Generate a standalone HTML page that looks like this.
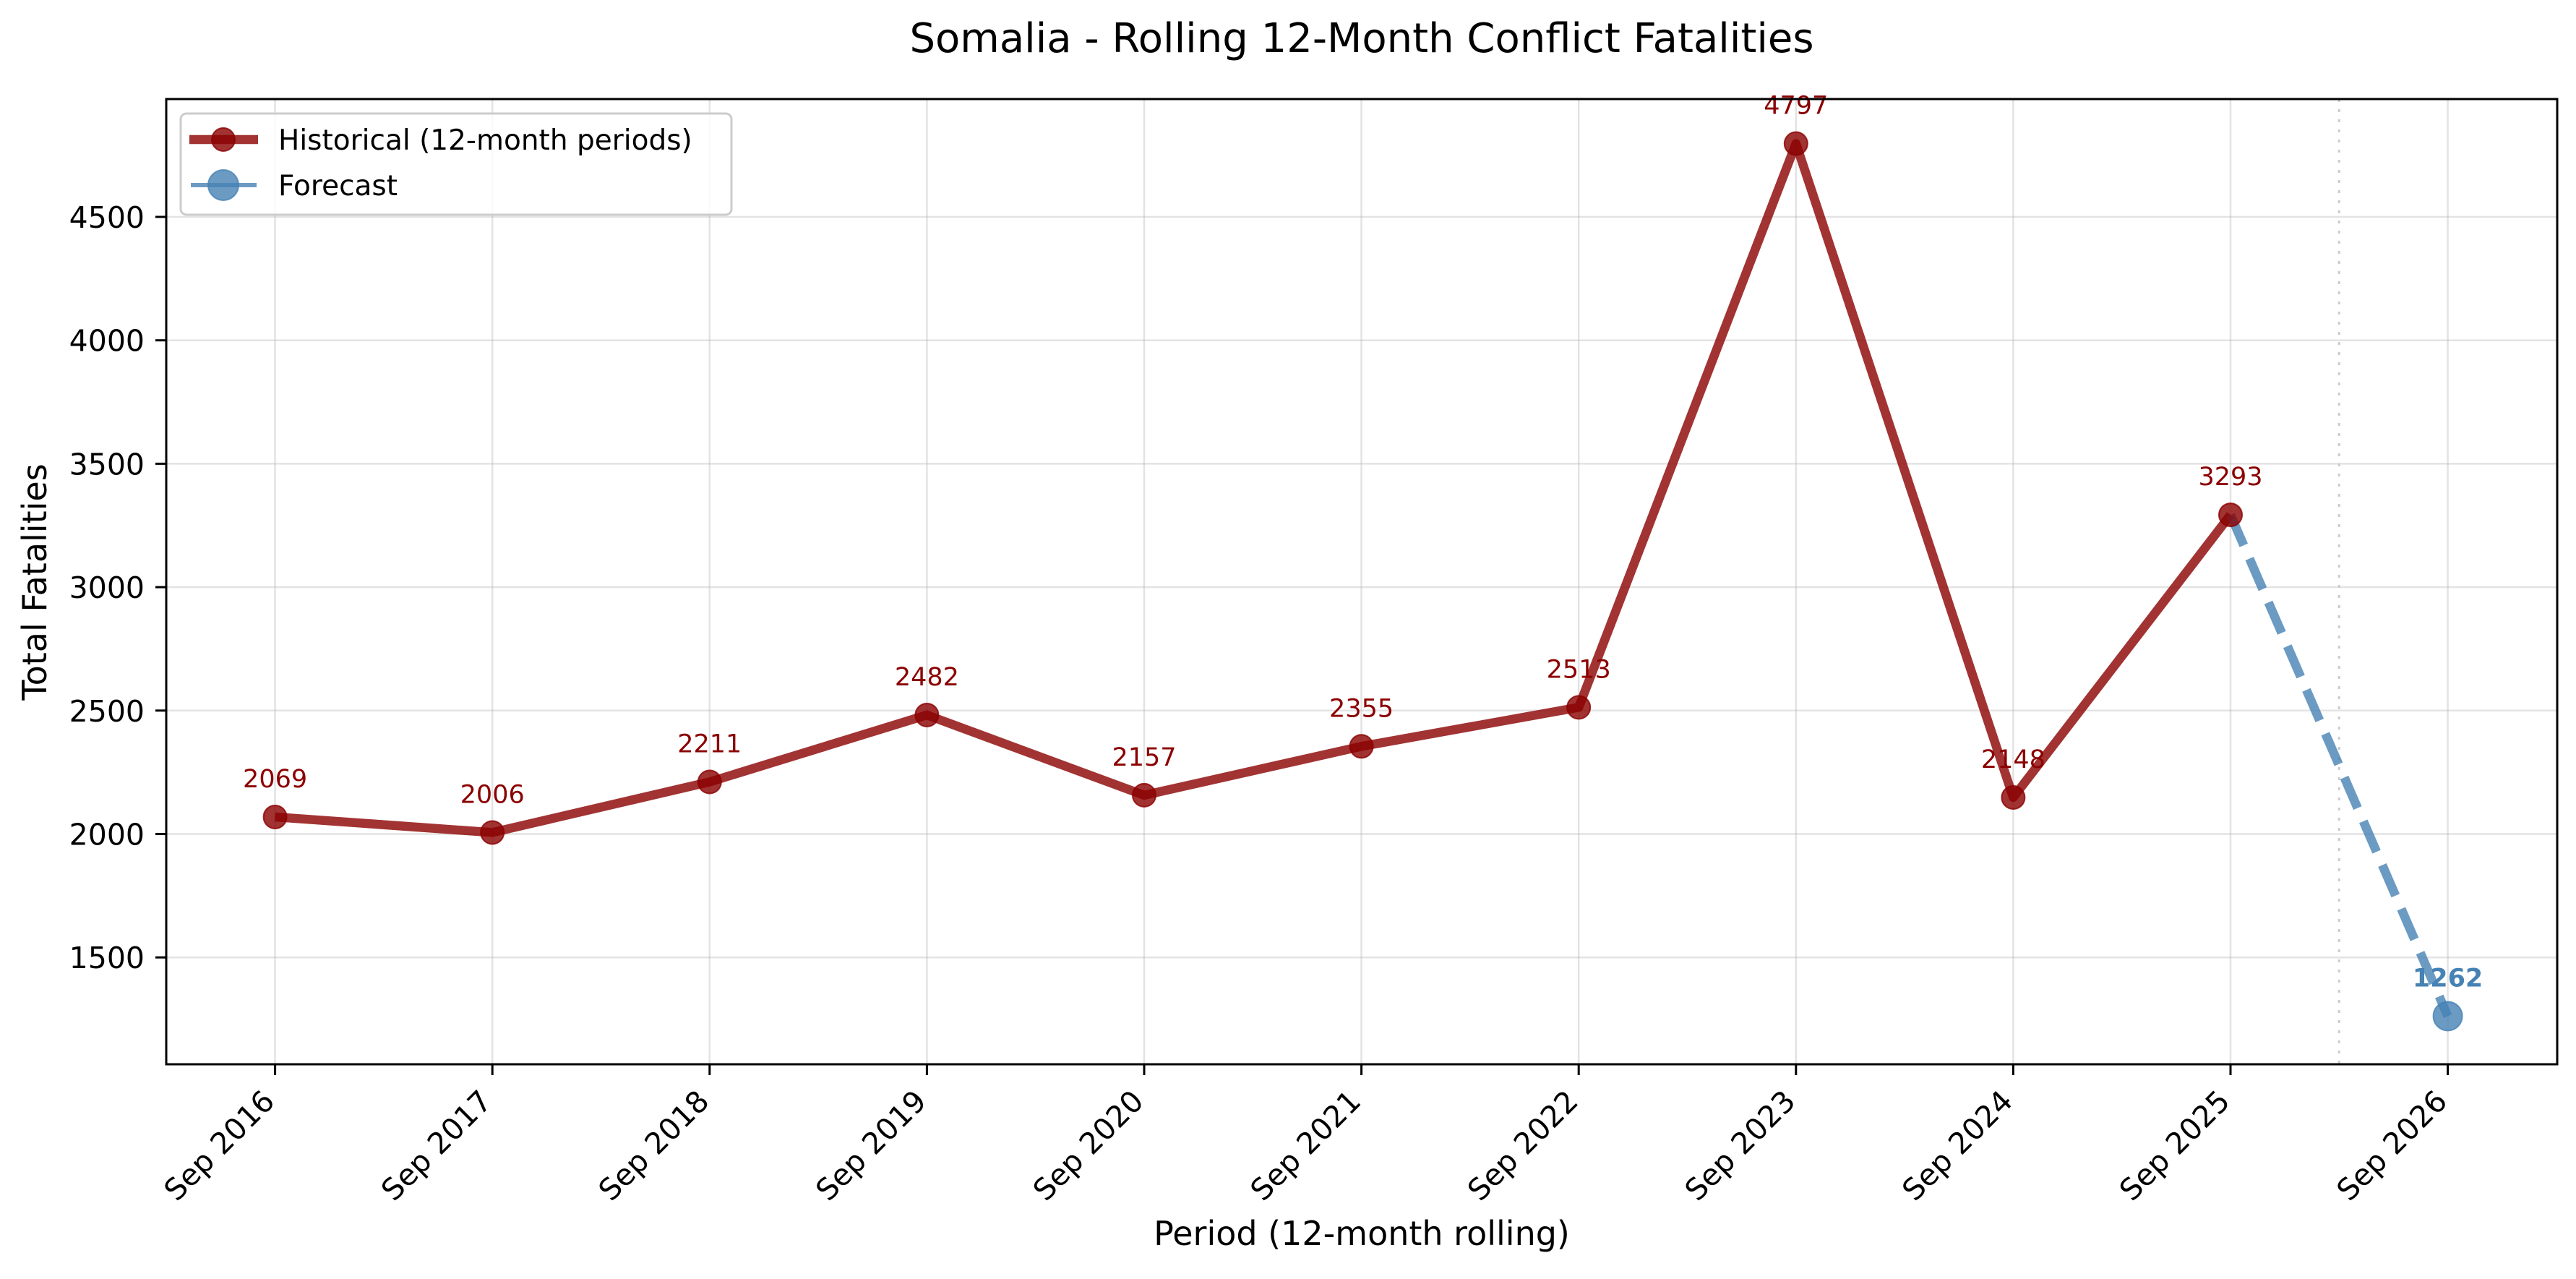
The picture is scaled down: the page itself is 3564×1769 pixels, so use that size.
<!DOCTYPE html>
<html><head><meta charset="utf-8"><style>
body{margin:0;background:#fff}
svg text{font-family:"DejaVu Sans","Liberation Sans",sans-serif}
</style></head><body>
<svg id="chart" width="3564" height="1764" viewBox="0 0 3564 1764" xmlns="http://www.w3.org/2000/svg">
<rect width="3564" height="1764" fill="#fff"/>
<text x="1884" y="72" font-size="56" text-anchor="middle">Somalia - Rolling 12-Month Conflict Fatalities</text>
<g id="grid"></g>
<g id="axes"></g>
<g id="series"></g>
<rect x="230" y="137" width="3308" height="1335" fill="none" stroke="#000" stroke-width="3"/>
<text transform="translate(64,805) rotate(-90)" font-size="46" text-anchor="middle">Total Fatalities</text>
<text x="1884" y="1722" font-size="46" text-anchor="middle">Period (12-month rolling)</text>
<g>
<rect x="250" y="157" width="762" height="140" rx="8" fill="#fff" fill-opacity="0.8" stroke="#ccc" stroke-width="3"/>
<line x1="262" y1="193" x2="357" y2="193" stroke="#8b0000" stroke-opacity="0.8" stroke-width="12.5"/>
<circle cx="309" cy="193" r="16" fill="#8b0000" fill-opacity="0.8" stroke="#8b0000" stroke-opacity="0.8" stroke-width="2"/>
<text x="385" y="207" font-size="39">Historical (12-month periods)</text>
<line x1="264" y1="256" x2="355" y2="256" stroke="#4682b4" stroke-opacity="0.8" stroke-width="6"/>
<circle cx="309" cy="256" r="21" fill="#4682b4" fill-opacity="0.8" stroke="#4682b4" stroke-opacity="0.8" stroke-width="2"/>
<text x="385" y="270" font-size="39">Forecast</text>
</g>
</svg>
<script>
const categories=["Sep 2016","Sep 2017","Sep 2018","Sep 2019","Sep 2020","Sep 2021","Sep 2022","Sep 2023","Sep 2024","Sep 2025","Sep 2026"];
const historical=[2069,2006,2211,2482,2157,2355,2513,4797,2148,3293];
const forecast=[1262];
const yTicks=[1500,2000,2500,3000,3500,4000,4500];
const NS="http://www.w3.org/2000/svg";
const X=i=>380.6+i*300.6;
const Y=v=>470.7-(v-4000)*0.3414;
function mk(tag,attrs,parent,txt){const e=document.createElementNS(NS,tag);for(const k in attrs)e.setAttribute(k,attrs[k]);if(txt!==undefined)e.textContent=txt;parent.appendChild(e);return e;}
const grid=document.getElementById('grid'),axes=document.getElementById('axes'),ser=document.getElementById('series');
categories.forEach((c,i)=>{
 const g=mk('line',{x1:X(i),x2:X(i),y1:137,y2:1472,stroke:'#b0b0b0','stroke-opacity':0.35,'stroke-width':2.5},grid);
 
 
 const t=mk('line',{x1:X(i),x2:X(i),y1:1472,y2:1487,stroke:'#000','stroke-width':3},axes);
 
 
 const l=mk('text',{transform:`translate(${X(i)-20},${1504}) rotate(-45)`,'font-size':41,'text-anchor':'end','dominant-baseline':'hanging'},axes,c);
 
 
});
yTicks.forEach(v=>{
 const g=mk('line',{x1:230,x2:3538,y1:Y(v),y2:Y(v),stroke:'#b0b0b0','stroke-opacity':0.35,'stroke-width':2.5},grid);
 
 
 const t=mk('line',{x1:215,x2:230,y1:Y(v),y2:Y(v),stroke:'#000','stroke-width':3},axes);
 
 
 const l=mk('text',{x:200,y:Y(v)+15,'font-size':41,'text-anchor':'end'},axes,v);
 
 
});
const sep=mk('line',{x1:(X(historical.length-1)+X(historical.length))/2,x2:(X(historical.length-1)+X(historical.length))/2,y1:137,y2:1472,stroke:'#ccc','stroke-width':3,'stroke-dasharray':'4 10'},grid);


const hl=mk('polyline',{points:historical.map((v,i)=>X(i)+','+Y(v)).join(' '),fill:'none',stroke:'#8b0000','stroke-opacity':0.8,'stroke-width':12.5,'stroke-linejoin':'round'},ser);


const li=historical.length-1;
const fl=mk('polyline',{points:[X(li)+','+Y(historical[li])].concat(forecast.map((v,j)=>X(li+1+j)+','+Y(v))).join(' '),fill:'none',stroke:'#4682b4','stroke-opacity':0.8,'stroke-width':12.5,'stroke-dasharray':'46 20'},ser);


historical.forEach((v,i)=>{
 const p=mk('circle',{cx:X(i),cy:Y(v),r:16,fill:'#8b0000','fill-opacity':0.8,stroke:'#8b0000','stroke-opacity':0.8,'stroke-width':2},ser);
 
 
 const t=mk('text',{x:X(i),y:Y(v)-41,'font-size':35,fill:'#8b0000','text-anchor':'middle'},ser,v);
 
 
});
forecast.forEach((v,j)=>{
 const i=li+1+j;
 const p=mk('circle',{cx:X(i),cy:Y(v),r:20,fill:'#4682b4','fill-opacity':0.8,stroke:'#4682b4','stroke-opacity':0.8,'stroke-width':2},ser);
 
 
 const t=mk('text',{x:X(i),y:Y(v)-41,'font-size':35,'font-weight':'bold',fill:'#4682b4','text-anchor':'middle'},ser,v);
 
 
});
</script>
</body></html>
